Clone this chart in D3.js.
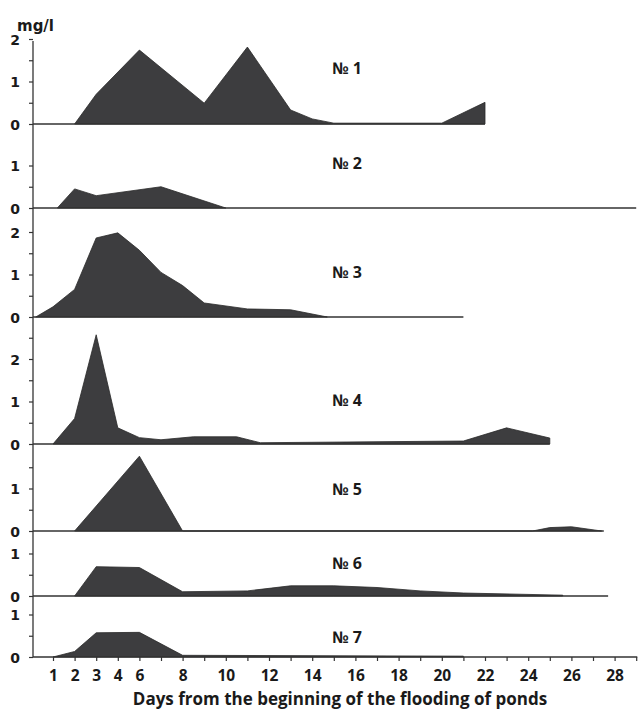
<!DOCTYPE html>
<html>
<head>
<meta charset="utf-8">
<script src="https://cdn.jsdelivr.net/npm/d3@7"></script>
<style>
  body { margin: 0; background: #fff; }
  .lab { font-family: "Open Sans", sans-serif; font-weight: bold; fill: #1a1a1a; }
  .ylab { font-family: "DejaVu Sans", sans-serif; font-weight: bold; fill: #1a1a1a; }
</style>
</head>
<body>
<svg id="vis" width="641" height="709"></svg>
<script>
// values, mg/l by day
var pond1Days = [2, 3, 6, 9, 11, 13, 14, 15, 20, 22];
var pond1Mg = [0, 0.7, 1.74, 0.49, 1.81, 0.33, 0.12, 0.02, 0.02, 0.51];
var pond2Days = [1.2, 2, 3, 7, 10];
var pond2Mg = [0, 0.45, 0.29, 0.5, 0];
var pond3Days = [0.2, 1, 2, 3, 4, 6, 7, 8, 9, 11, 13, 14.7];
var pond3Mg = [0, 0.24, 0.65, 1.86, 1.98, 1.57, 1.05, 0.74, 0.33, 0.19, 0.17, 0];
var pond4Days = [1, 2, 3, 4, 6, 7, 8.5, 10.5, 11.6, 21, 23, 25];
var pond4Mg = [0, 0.6, 2.57, 0.38, 0.15, 0.1, 0.17, 0.17, 0.03, 0.07, 0.38, 0.14];
var pond5Days = [2, 6, 8, 24.2, 25, 26, 27.4];
var pond5Mg = [0, 1.76, 0, 0, 0.08, 0.1, 0];
var pond6Days = [2, 3, 6, 8, 11, 13, 15, 17, 19, 21, 25.6];
var pond6Mg = [0, 0.69, 0.67, 0.1, 0.12, 0.24, 0.24, 0.2, 0.12, 0.07, 0.02];
var pond7Days = [1, 2, 3, 6, 8, 21];
var pond7Mg = [0, 0.13, 0.57, 0.58, 0.04, 0.02];

var pondNames = ["№ 1", "№ 2", "№  3", "№ 4", "№ 5", "№ 6", "№ 7"];
var pondLineEnd = [22, 29, 21, 25, 27.5, 27.7, 29];
var pondTickMax = [2, 1, 2, 2.5, 1.5, 1, 1];
var pondLabels = [[0, 1, 2], [0, 1], [0, 1, 2], [0, 1, 2], [0, 1], [0, 1], [0, 1]];

var tickDays = [1, 2, 3, 4].concat(d3.range(6, 30));
var labelDays = [1, 2, 3, 4, 6, 8, 10, 12, 14, 16, 18, 20, 22, 24, 26, 28];

var ponds = [
  [pond1Days, pond1Mg], [pond2Days, pond2Mg], [pond3Days, pond3Mg],
  [pond4Days, pond4Mg], [pond5Days, pond5Mg], [pond6Days, pond6Mg],
  [pond7Days, pond7Mg]
].map(function(p) {
  return p[0].map(function(d, i) { return { day: d, v: p[1][i] }; });
});

var svg = d3.select("#vis");
var axisX = 33;
var step = 21.6;
var x0 = 53;
var unit = 42.5;
var baselines = [124, 208, 317, 444, 531, 596, 657];
var nameY = [68, 163, 272, 400, 489, 563, 637];
var fillCol = "#3d3d3f";

// the original figure skips day 5 on the axis, so the scale is piecewise
var xScale = d3.scaleLinear()
  .domain([1, 4, 6, 29])
  .range([x0, x0 + 3 * step, x0 + 4 * step, x0 + 27 * step]);

ponds.forEach(function(data, k) {
  var base = baselines[k];
  var yScale = d3.scaleLinear().domain([0, 1]).range([base, base - unit]);

  var area = d3.area()
    .x(function(d) { return xScale(d.day); })
    .y0(yScale(0))
    .y1(function(d) { return yScale(d.v); });

  svg.append("path")
    .datum(data)
    .attr("d", area)
    .style("fill", fillCol)
    .style("stroke", "#2a2a2a")
    .style("stroke-width", 0.8);

  // baseline of the panel
  if (k < 6) {
    svg.append("line")
      .attr("x1", axisX)
      .attr("y1", base)
      .attr("x2", xScale(pondLineEnd[k]))
      .attr("y2", base)
      .style("stroke", "#333")
      .style("stroke-width", "1.3px");
  }

  var g = svg.append("g")
    .attr("transform", "translate(" + axisX + ",0)")
    .call(
      d3.axisLeft(yScale)
        .tickValues(d3.range(0, pondTickMax[k] + 0.01, 0.5))
        .tickSize(4)
        .tickPadding(9)
        .tickFormat(function(d) {
          return pondLabels[k].indexOf(d) >= 0 ? d : "";
        })
    );
  g.select(".domain").remove();
  g.selectAll(".tick line").style("stroke", "#333").style("stroke-width", "1.2px");
  g.selectAll(".tick text")
    .attr("class", "ylab")
    .style("font-size", "14px")
    .attr("dy", "0.36em");

  svg.append("text")
    .attr("class", "lab")
    .attr("x", 347)
    .attr("y", nameY[k])
    .attr("dy", "0.36em")
    .attr("text-anchor", "middle")
    .style("font-size", "16px")
    .text(pondNames[k]);
});

// vertical axis line
svg.append("line")
  .attr("x1", axisX)
  .attr("y1", 41)
  .attr("x2", axisX)
  .attr("y2", baselines[6])
  .style("stroke", "#333")
  .style("stroke-width", "1.3px");

// x axis
var xg = svg.append("g")
  .attr("transform", "translate(0," + baselines[6] + ")")
  .call(
    d3.axisBottom(xScale)
      .tickValues(tickDays)
      .tickSize(4)
      .tickPadding(9)
      .tickFormat(function(d) {
        return labelDays.indexOf(d) >= 0 ? d : "";
      })
  );
xg.select(".domain")
  .attr("d", "M" + axisX + ",0H" + xScale(29.05))
  .style("stroke", "#333")
  .style("stroke-width", "1.3px");
xg.selectAll(".tick line").style("stroke", "#333").style("stroke-width", "1.2px");
xg.selectAll(".tick text").attr("class", "lab").style("font-size", "15.5px");

svg.append("text")
  .attr("class", "ylab")
  .attr("x", 17)
  .attr("y", 31)
  .style("font-size", "15px")
  .text("mg/l");

svg.append("text")
  .attr("class", "lab")
  .attr("x", 340)
  .attr("y", 705)
  .attr("text-anchor", "middle")
  .style("font-size", "17px")
  .text("Days from the beginning of the flooding of ponds");
</script>
</body>
</html>
